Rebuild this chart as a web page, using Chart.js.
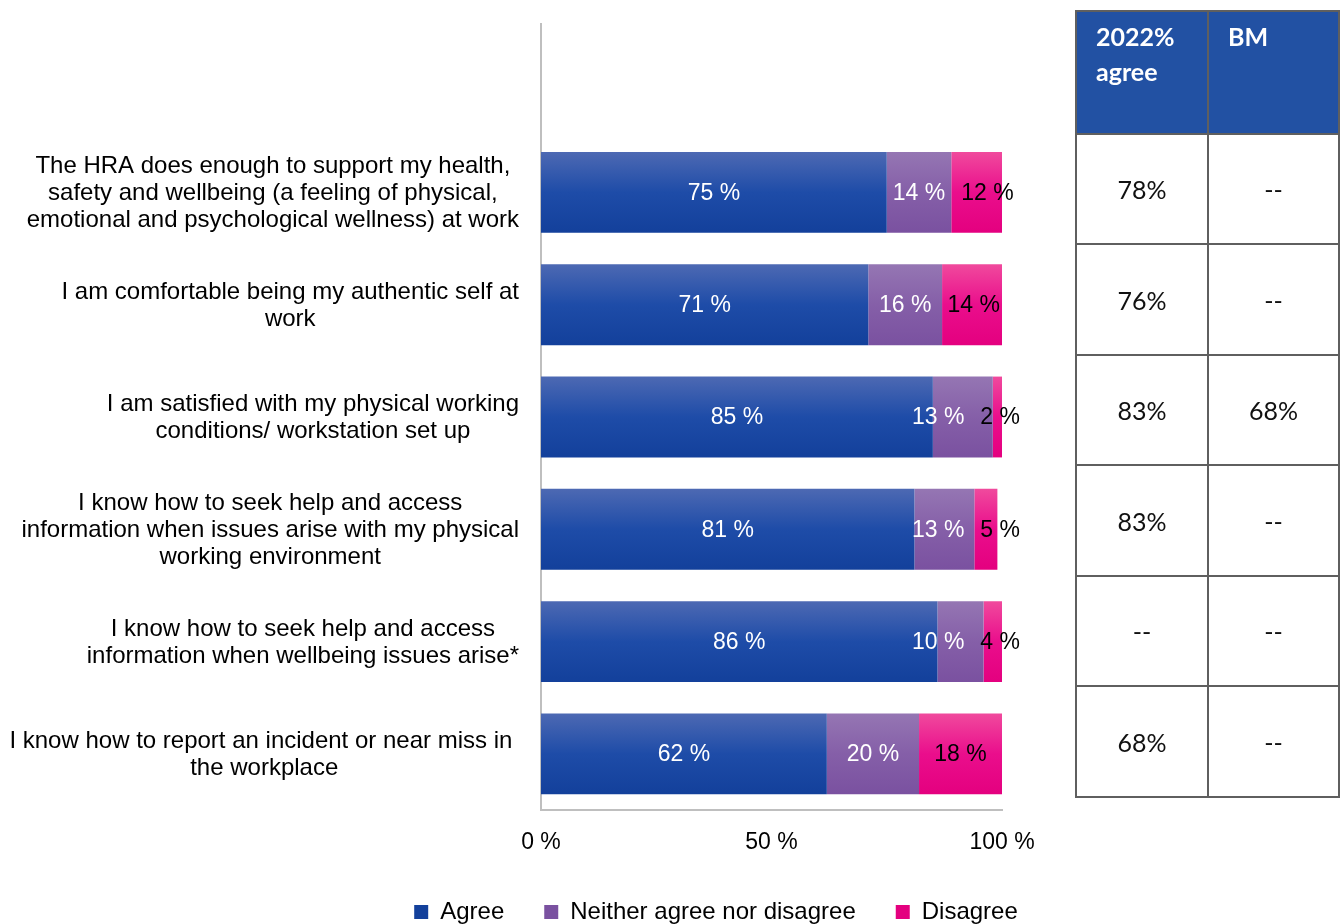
<!DOCTYPE html>
<html>
<head>
<meta charset="utf-8">
<script src="https://cdn.jsdelivr.net/npm/chart.js@4.4.1/dist/chart.umd.min.js"></script>
<style>
    html, body { margin: 0; padding: 0; background: #fff; overflow: hidden; }
    #wrap { position: absolute; left: 0; top: 0; width: 1432px; height: 934px; }
    #summary {
        position: absolute; left: 1075px; top: 10px; width: 263px;
        border-collapse: collapse; table-layout: fixed;
        font-family: Lato, "Open Sans", sans-serif; font-size: 25px;
    }
    #summary td, #summary th { border: 2px solid #5f5f5f; padding: 0; }
    #summary th {
        background: #2251a3; color: #fff; font-weight: bold; text-align: left;
        vertical-align: top; line-height: 35px; padding: 7px 0 0 19px;
    }
    #summary td { text-align: center; vertical-align: middle; color: #111; }
</style>
</head>
<body>
<div id="wrap"><canvas id="wellbeingChart"></canvas></div>
<table id="summary"></table>
<script>
// Survey statements (first slot left blank to leave headroom above the bars)
const statements = [
    [''],
    ['The HRA does enough to support my health,', 'safety and wellbeing (a feeling of physical,', 'emotional and psychological wellness) at work'],
    ['I am comfortable being my authentic self at', 'work'],
    ['I am satisfied with my physical working', 'conditions/ workstation set up'],
    ['I know how to seek help and access', 'information when issues arise with my physical', 'working environment'],
    ['I know how to seek help and access', 'information when wellbeing issues arise*'],
    ['I know how to report an incident or near miss in ', 'the workplace']
];
const agree    = [null, 75, 71, 85, 81, 86, 62];
const neither  = [null, 14, 16, 13, 13, 10, 20];
const disagree = [null, 12, 14, 2, 5, 4, 18];

const xTicks = [0, 50, 100];

// Side table
const tableHeaders = ['2022%<br>agree', 'BM'];
const agree2022 = ['78%', '76%', '83%', '83%', '--', '68%'];
const benchmark = ['--', '--', '68%', '--', '--', '--'];

const FONT = '"Liberation Sans", Arial, sans-serif';
const BAR_SHARE = 0.72;

function barFill(light, mid, dark) {
    return (ctx) => {
        const chart = ctx.chart;
        const area = chart.chartArea;
        if (ctx.type !== 'data' || !area) return mid;
        const band = (area.bottom - area.top) / statements.length;
        const cy = chart.scales.y.getPixelForValue(ctx.dataIndex);
        const h = band * BAR_SHARE;
        const g = chart.ctx.createLinearGradient(0, cy - h / 2, 0, cy + h / 2);
        g.addColorStop(0, light);
        g.addColorStop(0.5, mid);
        g.addColorStop(1, dark);
        return g;
    };
}

// Dataset-level colour (legend boxes) when no bar context is available
function withSolid(fn, solid) {
    return (ctx) => (ctx.type === 'data' && ctx.chart.chartArea) ? fn(ctx) : solid;
}

const blueFill = withSolid(barFill('#4d69b3', '#1e4ca8', '#13409b'), '#1a49a3');
const purpleFill = withSolid(barFill('#9576b3', '#855fa8', '#7a51a0'), '#8263aa');
const pinkFill = withSolid(barFill('#f04a9d', '#ea0e8c', '#e4007f'), '#e8078a');

// Multi-line category labels: each block centred on itself, right-aligned to the axis
const statementLabels = {
    id: 'statementLabels',
    afterDraw(chart) {
        const { ctx, scales: { y } } = chart;
        const right = y.right - 22;
        const lineH = 27;
        ctx.save();
        ctx.font = '24px ' + FONT;
        ctx.fillStyle = '#000';
        ctx.textAlign = 'center';
        ctx.textBaseline = 'middle';
        statements.forEach((lines, i) => {
            const widest = Math.max(...lines.map(l => ctx.measureText(l).width));
            const cx = right - widest / 2;
            const cy = y.getPixelForValue(i) + 1;
            const top = cy - (lines.length - 1) * lineH / 2;
            lines.forEach((l, k) => ctx.fillText(l, cx, top + k * lineH));
        });
        ctx.restore();
    }
};

// Percent labels inside each segment; crowded neighbours are nudged apart
const segmentLabels = {
    id: 'segmentLabels',
    afterDatasetsDraw(chart) {
        const ctx = chart.ctx;
        const area = chart.chartArea;
        const colors = ['#fff', '#fff', '#000'];
        const minGap = 16;
        const maxRight = area.right + 18;
        ctx.save();
        ctx.font = '23px ' + FONT;
        ctx.textAlign = 'center';
        ctx.textBaseline = 'middle';
        chart.data.labels.forEach((_, i) => {
            const items = chart.data.datasets.map((ds, di) => {
                const bar = chart.getDatasetMeta(di).data[i];
                const v = ds.data[i];
                if (v == null) return null;
                const x0 = Math.max(area.left, Math.min(bar.base, bar.x));
                const x1 = Math.min(area.right, Math.max(bar.base, bar.x));
                const text = v + ' %';
                return { text, cx: (x0 + x1) / 2, y: bar.y + 1, w: ctx.measureText(text).width, color: colors[di] };
            });
            const mid = items[1], last = items[2];
            if (mid && last) {
                let need = minGap - ((last.cx - last.w / 2) - (mid.cx + mid.w / 2));
                if (need > 0) {
                    const room = Math.max(0, maxRight - (last.cx + last.w / 2));
                    const push = Math.min(need, room);
                    last.cx += push;
                    mid.cx -= need - push;
                }
            }
            items.forEach(it => {
                if (!it) return;
                ctx.fillStyle = it.color;
                ctx.fillText(it.text, it.cx, it.y);
            });
        });
        ctx.restore();
    }
};

new Chart(document.getElementById('wellbeingChart'), {
    type: 'bar',
    data: {
        labels: statements.map(s => s.join(' ')),
        datasets: [
            { label: 'Agree', data: agree, backgroundColor: blueFill },
            { label: 'Neither agree nor disagree', data: neither, backgroundColor: purpleFill },
            { label: 'Disagree', data: disagree, backgroundColor: pinkFill }
        ]
    },
    options: {
        indexAxis: 'y',
        responsive: true,
        maintainAspectRatio: false,
        animation: false,
        datasets: { bar: { categoryPercentage: BAR_SHARE, barPercentage: 1, borderWidth: 0 } },
        layout: { padding: { top: 24, right: 0, left: 0, bottom: 0 } },
        plugins: {
            legend: {
                position: 'bottom',
                labels: {
                    boxWidth: 14, boxHeight: 14, padding: 40, color: '#000',
                    font: { family: FONT, size: 24 }
                }
            },
            tooltip: { enabled: false }
        },
        scales: {
            x: {
                stacked: true,
                min: 0, max: 100,
                afterBuildTicks: (s) => { s.ticks = xTicks.map(v => ({ value: v })); },
                afterFit: (s) => { s.height = 50; },
                grid: { display: false, drawTicks: false },
                border: { display: true, color: '#bfbfbf', width: 2 },
                ticks: {
                    padding: 19, color: '#000', maxRotation: 0,
                    font: { family: FONT, size: 23 },
                    callback: v => v + ' %'
                }
            },
            y: {
                stacked: true,
                afterFit: (s) => { s.width = 541; },
                grid: { display: false, drawTicks: false },
                border: { display: true, color: '#bfbfbf', width: 2 },
                ticks: { display: false }
            },
            // empty band on the right where the summary table sits
            yTable: {
                type: 'category',
                position: 'right',
                afterFit: (s) => { s.width = 430; },
                grid: { display: false, drawTicks: false },
                border: { display: false },
                ticks: { display: false }
            }
        }
    },
    plugins: [statementLabels, segmentLabels]
});

// Build the side table from the arrays
const table = document.getElementById('summary');
const rowHeights = [110, 111, 110, 111, 110, 111];
let html = '<colgroup><col style="width:132px"><col style="width:131px"></colgroup>';
html += '<tr style="height:123px">' + tableHeaders.map(h => '<th>' + h + '</th>').join('') + '</tr>';
agree2022.forEach((v, i) => {
    html += '<tr style="height:' + rowHeights[i] + 'px"><td>' + v + '</td><td>' + benchmark[i] + '</td></tr>';
});
table.innerHTML = html;
</script>
</body>
</html>
